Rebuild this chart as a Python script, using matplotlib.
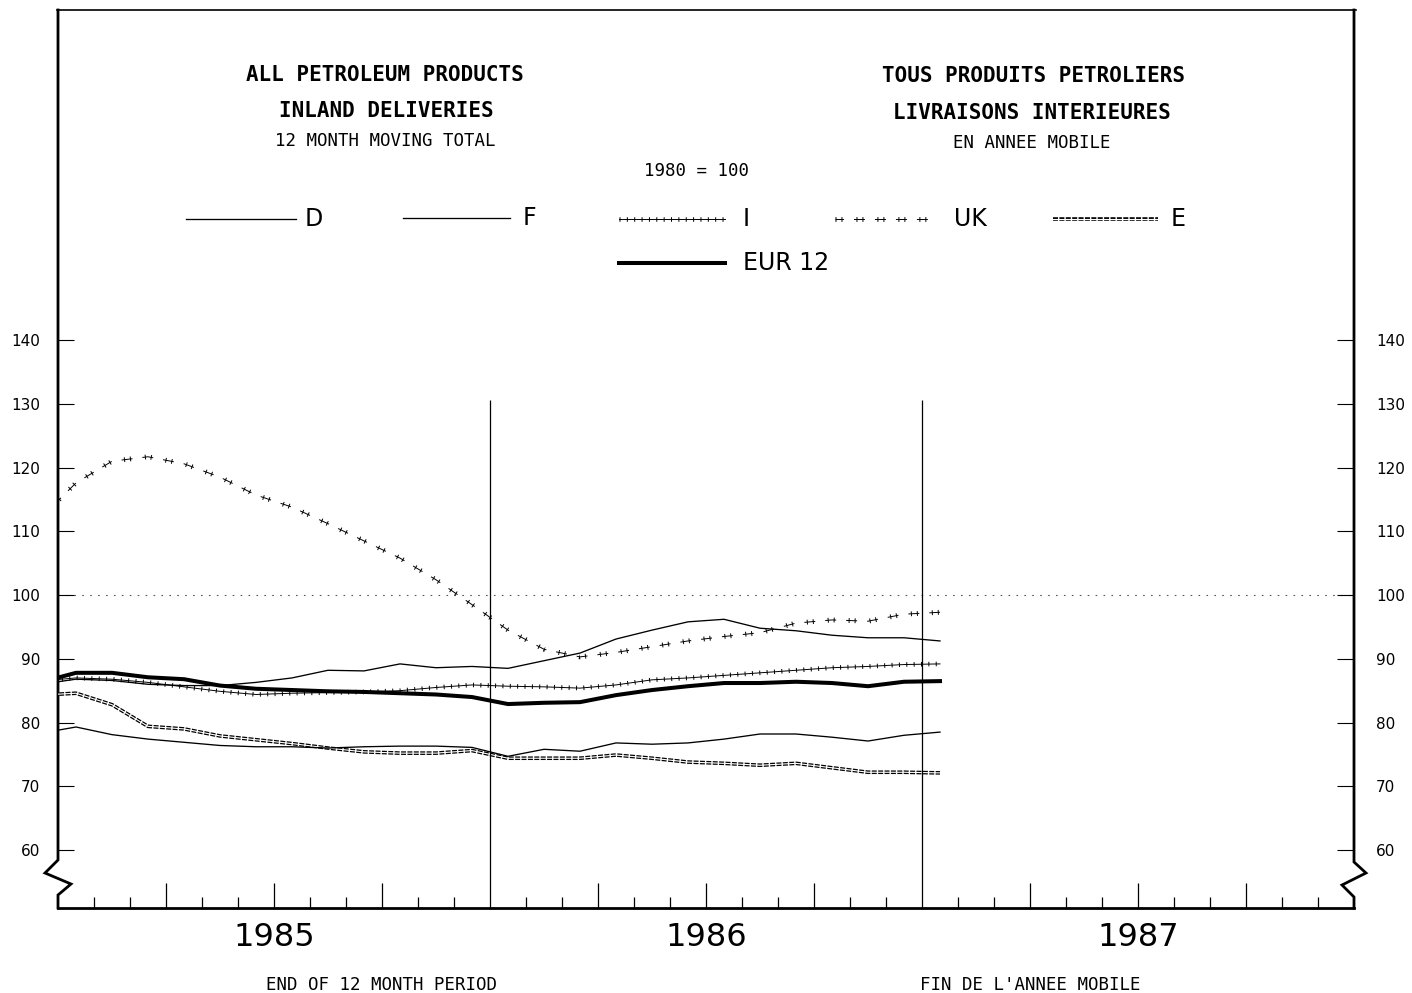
import matplotlib
matplotlib.use('Agg')
import matplotlib.pyplot as plt
import matplotlib.transforms as mtransforms
from matplotlib.lines import Line2D
import numpy as np

plt.rcParams['lines.scale_dashes'] = False
plt.rcParams['path.simplify'] = False

# ---------------- data (12 month moving totals, 1980 = 100) ----------------
months = ['1984-12', '1985-01', '1985-02', '1985-03', '1985-04', '1985-05', '1985-06',
          '1985-07', '1985-08', '1985-09', '1985-10', '1985-11', '1985-12',
          '1986-01', '1986-02', '1986-03', '1986-04', '1986-05', '1986-06',
          '1986-07', '1986-08', '1986-09', '1986-10', '1986-11', '1986-12', '1987-01']

D = [86.0, 86.8, 86.6, 86.0, 85.8, 85.8, 86.3, 87.0, 88.2, 88.1, 89.2, 88.6, 88.8,
     88.5, 89.7, 90.9, 93.1, 94.5, 95.8, 96.2, 94.8, 94.4, 93.7, 93.3, 93.3, 92.8]
F = [78.3, 79.3, 78.1, 77.4, 76.9, 76.4, 76.2, 76.2, 76.0, 76.2, 76.3, 76.3, 76.1,
     74.7, 75.8, 75.5, 76.8, 76.6, 76.8, 77.4, 78.2, 78.2, 77.7, 77.1, 78.0, 78.5]
I = [86.5, 87.0, 86.8, 86.3, 85.6, 84.9, 84.4, 84.6, 84.7, 84.8, 85.0, 85.5, 85.9,
     85.7, 85.6, 85.4, 85.9, 86.7, 87.0, 87.4, 87.8, 88.2, 88.6, 88.8, 89.1, 89.2]
UK = [112.0, 117.6, 121.0, 121.7, 120.6, 118.5, 115.7, 113.8, 111.2, 108.5, 105.8, 102.4, 98.5,
      94.5, 91.5, 90.3, 91.0, 91.9, 92.8, 93.5, 94.1, 95.6, 96.1, 95.9, 97.0, 97.3]
E = [84.3, 84.6, 82.8, 79.4, 79.0, 77.9, 77.3, 76.7, 76.0, 75.4, 75.2, 75.2, 75.6,
     74.4, 74.4, 74.4, 74.9, 74.4, 73.8, 73.6, 73.3, 73.6, 72.9, 72.2, 72.2, 72.1]
EUR12 = [86.3, 87.8, 87.8, 87.1, 86.8, 85.8, 85.3, 85.1, 84.9, 84.8, 84.6, 84.4, 84.0,
         82.9, 83.1, 83.2, 84.3, 85.1, 85.7, 86.2, 86.2, 86.4, 86.2, 85.7, 86.4, 86.5]

series_names = ['D', 'F', 'I', 'UK', 'E', 'EUR 12']
series_values = [D, F, I, UK, E, EUR12]

year_labels = ['1985', '1986', '1987']
ytick_values = [60, 70, 80, 90, 100, 110, 120, 130, 140]

# ---------------- styles ----------------
def layers(name):
    if name in ('D', 'F'):
        return [dict(color='k', lw=0.95)]
    if name == 'EUR 12':
        return [dict(color='k', lw=2.9)]
    if name == 'I':
        return [dict(color='k', lw=0.7),
                dict(color='k', lw=3.3, ls=(0, (0.7, 4.6)))]
    if name == 'UK':
        return [dict(color='k', lw=0.7, ls=(1.8, (7.9, 7.2))),
                dict(color='k', lw=3.5, ls=(0, (0.7, 3.6, 0.7, 10.1)))]
    if name == 'E':
        return [dict(color='k', lw=2.6, ls=(0, (3.6, 1.0))),
                dict(color='w', lw=0.8)]
    return [dict(color='k')]

zorders = {'D': 3, 'F': 3, 'I': 3, 'UK': 3, 'E': 2, 'EUR 12': 4}

# ---------------- figure ----------------
W, H = 1412, 993
fig = plt.figure(figsize=(W / 100, H / 100), dpi=100)
L, R, T, B = 58, 1354, 10, 908
ax = fig.add_axes([L / W, (H - B) / H, (R - L) / W, (B - T) / H])
ax.set_xlim(0, 36)
ymin, ymax = 50.9, 191.8
ax.set_ylim(ymin, ymax)
for s in ax.spines.values():
    s.set_visible(False)

x = np.arange(len(months)) - 0.5   # mid-month positions (months from start of 1985)

for name, vals in zip(series_names, series_values):
    for k, st in enumerate(layers(name)):
        ax.plot(x, vals, zorder=zorders[name] + 0.1 * k, **st)

# reference line at 100
ax.axhline(100, color='0.35', lw=0.8, ls=(0, (1.2, 4.5)), zorder=1)

# year separators
ax.vlines([12, 24], ymin, 130.6, color='k', lw=0.9, zorder=5)

# frame with axis breaks
aw, ah = R - L, B - T
def fx(px):
    return px / aw
def fy(py):
    return py / ah
frame_kw = dict(transform=ax.transAxes, clip_on=False, color='k', solid_joinstyle='miter')
ax.add_line(Line2D([fx(-1), fx(aw + 2)], [1, 1], lw=1.2, **frame_kw))
ax.add_line(Line2D([0, 1], [0, 0], lw=2.0, **frame_kw))
lx = [0, 0, -13, 13, 0, 0]
ly = [ah, 48, 35, 24, 13, 0]
ax.add_line(Line2D([fx(v) for v in lx], [fy(v) for v in ly], lw=2.0, **frame_kw))
rx = [aw, aw, aw + 12, aw - 12, aw, aw]
ry = [ah, 46, 35, 23, 11, 0]
ax.add_line(Line2D([fx(v) for v in rx], [fy(v) for v in ry], lw=2.0, **frame_kw))

# y ticks (both sides)
ax.set_yticks(ytick_values)
ax.set_yticklabels([str(v) for v in ytick_values])
ax.tick_params(axis='y', direction='in', length=11.5, width=0.8, left=True, right=False,
               labelsize=11, pad=13, colors='k')
ax2 = ax.twinx()
ax2.set_ylim(ymin, ymax)
for s in ax2.spines.values():
    s.set_visible(False)
ax2.set_yticks(ytick_values)
ax2.set_yticklabels([str(v) for v in ytick_values])
ax2.tick_params(axis='y', direction='in', length=12.5, width=0.8, labelsize=11, pad=16)

# x ticks: month ends, taller at quarter ends
major = [m for m in range(1, 36) if m % 3 == 0 and m % 12 != 0]
minor = [m for m in range(1, 36) if m % 3 != 0]
ax.set_xticks(major)
ax.set_xticks(minor, minor=True)
ax.set_xticklabels([])
ax.tick_params(axis='x', which='major', direction='in', length=18, width=0.9)
ax.tick_params(axis='x', which='minor', direction='in', length=8, width=0.9)
ax.tick_params(axis='x', which='both', labelbottom=False)

trans = mtransforms.blended_transform_factory(ax.transData, ax.transAxes)
for i, yl in enumerate(year_labels):
    ax.text(6 + 12 * i, -fy(29), yl, transform=trans, ha='center', va='center',
            fontsize=23, fontfamily='DejaVu Sans', color='k')

# ---------------- titles ----------------
mono = 'DejaVu Sans Mono'
def ftext(px, py, s, **kw):
    fig.text(px / W, 1 - py / H, s, ha='center', va='center', color='k', **kw)

ftext(385, 75, 'ALL PETROLEUM PRODUCTS', fontsize=15, fontfamily=mono, fontweight='bold')
ftext(386, 111, 'INLAND DELIVERIES', fontsize=15, fontfamily=mono, fontweight='bold')
ftext(385, 141, '12 MONTH MOVING TOTAL', fontsize=12.5, fontfamily=mono)
ftext(1033, 76, 'TOUS PRODUITS PETROLIERS', fontsize=15, fontfamily=mono, fontweight='bold')
ftext(1032, 113, 'LIVRAISONS INTERIEURES', fontsize=15, fontfamily=mono, fontweight='bold')
ftext(1032, 143, 'EN ANNEE MOBILE', fontsize=12.5, fontfamily=mono)
ftext(697, 171, '1980 = 100', fontsize=12.5, fontfamily=mono)
ftext(382, 985, 'END OF 12 MONTH PERIOD', fontsize=12.5, fontfamily=mono)
ftext(1030, 985, "FIN DE L'ANNEE MOBILE", fontsize=12.5, fontfamily=mono)

# ---------------- legend ----------------
legend_layout = {  # (x0, x1, y, label centre x)
    'D': (186, 296, 219, 314),
    'F': (403, 510, 218, 529),
    'I': (619, 725, 219, 746),
    'UK': (835, 935, 219, 970),
    'E': (1053, 1158, 219, 1178),
    'EUR 12': (619, 725, 263, 786),
}
for name in series_names:
    x0, x1, yy, tx = legend_layout[name]
    for k, st in enumerate(layers(name)):
        fig.add_artist(Line2D([x0 / W, x1 / W], [1 - yy / H, 1 - yy / H],
                              transform=fig.transFigure, zorder=3 + 0.1 * k, **st))
    ftext(tx, yy, name, fontsize=17, fontfamily='DejaVu Sans')

fig.savefig('out.png', dpi=100, facecolor='white')
